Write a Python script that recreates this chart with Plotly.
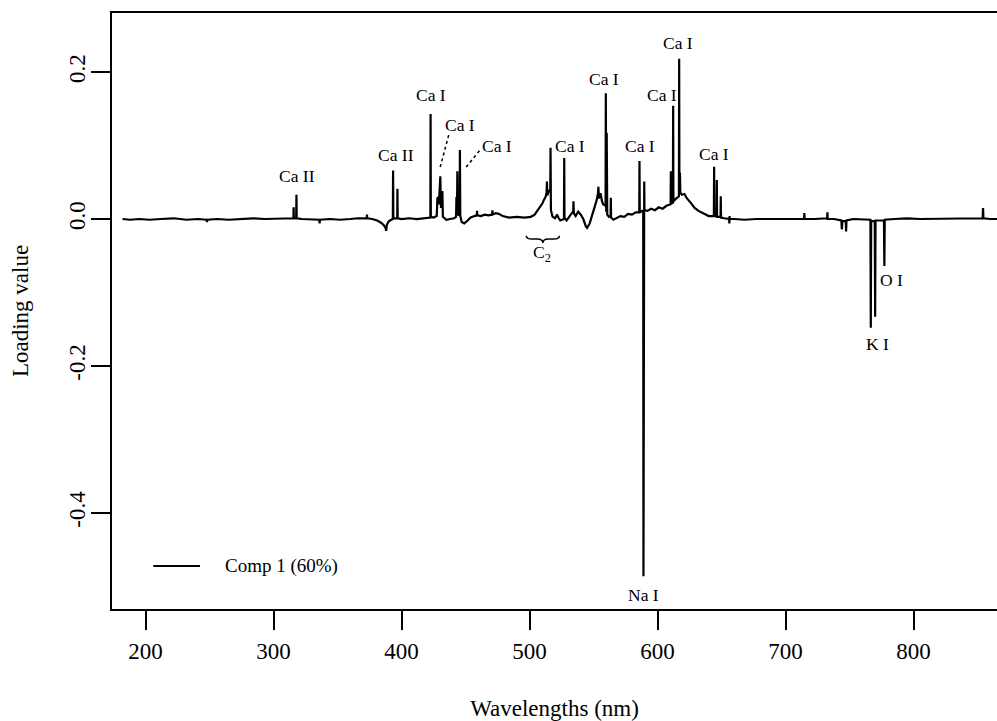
import plotly.graph_objects as go

# ---- Data: PCA loading spectrum (component 1) ----
wavelength_nm = [
    182, 188, 195, 203, 212, 222, 232, 241, 247.7, 248, 248.3, 256, 265, 275, 284, 293, 302, 309,
    315.5, 315.7, 315.9, 317.7, 317.9, 318.1, 322, 329, 335.8, 336, 336.2, 344, 352, 360, 366,
    372.8, 373, 373.2, 377, 381, 384, 386, 387.5, 388, 388.5, 390, 392,
    393.2, 393.4, 393.6, 396.6, 396.8, 397.0, 400, 406, 412, 418,
    422.5, 422.7, 422.9, 425, 427.5, 428.0, 428.6, 429.2, 430.3, 430.8, 431.9, 432.3, 435, 438, 441,
    442.6, 442.9, 443.3, 443.6, 444.0, 445.4, 445.6, 445.9, 447, 449, 451, 454, 457,
    458.8, 459, 459.2, 462, 465, 468, 470.8, 471, 471.2, 473.5, 476, 479, 484, 490, 496,
    501, 504, 506, 508, 510, 511.5, 512.5, 513.3, 513.6, 513.9, 515.0, 516.2, 516.4, 516.7,
    518, 520, 521.5, 522.5, 524, 526.9, 527.1, 527.3, 529, 531, 533, 534.1, 534.3, 534.6,
    536, 538, 540, 542, 544, 545, 547, 549, 551, 552.5, 553.5, 553.8, 554.2, 555.5, 556.5, 557.5,
    559.4, 559.6, 559.9, 560.3, 560.7, 562, 563.3, 563.5, 563.7, 565.5, 568, 571, 574, 577, 580, 583,
    585.7, 585.9, 586.1, 588, 588.8, 589.0, 589.2, 589.4, 589.6, 589.8,
    592, 595, 598, 601, 604, 607, 609.5, 610.2, 610.4, 610.6, 612.0, 612.2, 612.4, 614, 616.2,
    616.7, 616.9, 617.1, 617.5, 617.8, 619, 621, 623, 626, 629, 632, 636, 640,
    644.0, 644.2, 644.4, 646.1, 646.3, 646.5, 649.2, 649.4, 649.6, 652, 655.9, 656.1, 656.3, 656.5,
    660, 668, 677, 686, 695, 704, 714.5, 714.7, 714.9, 723, 732.5, 732.7, 732.9, 738,
    743.6, 744.0, 744.4, 747.1, 747.3, 747.6, 753, 760,
    766.3, 766.6, 766.9, 769.7, 770.0, 770.3, 776.9, 777.2, 777.5,
    785, 795, 805, 815, 825, 835, 845, 854.0, 854.3, 854.6, 860, 866,
]
loading_comp1 = [
    0.000, -0.001, 0.000, -0.001, 0.000, 0.001, -0.001, 0.000, -0.001, -0.004, -0.001, 0.000, -0.001, 0.000, 0.001, 0.000, 0.000, 0.001,
    0.001, 0.016, 0.001, 0.001, 0.033, 0.001, 0.000, -0.001, -0.001, -0.006, -0.001, 0.000, -0.001, 0.000, 0.001,
    0.001, 0.006, 0.001, 0.000, -0.002, -0.005, -0.008, -0.012, -0.016, -0.008, -0.003, -0.001,
    0.000, 0.066, 0.001, 0.001, 0.041, 0.001, 0.000, 0.001, 0.000, 0.001,
    0.002, 0.143, 0.003, 0.002, 0.004, 0.028, 0.030, 0.020, 0.058, 0.015, 0.038, 0.003, -0.001, 0.000, 0.001,
    0.003, 0.030, 0.008, 0.065, 0.006, 0.005, 0.094, 0.004, -0.004, -0.006, -0.003, 0.002, 0.004,
    0.005, 0.011, 0.005, 0.004, 0.006, 0.005, 0.006, 0.012, 0.006, 0.008, 0.007, 0.004, 0.002, 0.003, 0.002,
    0.003, 0.006, 0.011, 0.016, 0.021, 0.027, 0.030, 0.036, 0.051, 0.032, 0.038, 0.040, 0.097, 0.012,
    0.003, 0.001, 0.006, 0.002, -0.002, 0.000, 0.083, 0.002, -0.002, 0.004, 0.008, 0.010, 0.024, 0.008,
    0.004, 0.010, 0.006, 0.000, -0.010, -0.012, -0.006, 0.005, 0.016, 0.026, 0.035, 0.044, 0.028, 0.035, 0.025, 0.020,
    0.018, 0.171, 0.010, 0.117, 0.006, 0.003, 0.004, 0.029, 0.002, -0.001, 0.001, 0.004, 0.003, 0.007, 0.006, 0.009,
    0.009, 0.079, 0.009, 0.011, 0.010, -0.486, 0.010, -0.316, 0.051, 0.012,
    0.011, 0.014, 0.012, 0.016, 0.014, 0.018, 0.019, 0.020, 0.065, 0.021, 0.022, 0.154, 0.024, 0.027, 0.030,
    0.031, 0.218, 0.034, 0.063, 0.036, 0.033, 0.034, 0.028, 0.022, 0.015, 0.011, 0.008, 0.004,
    0.004, 0.071, 0.004, 0.004, 0.053, 0.003, 0.003, 0.031, 0.002, 0.001, 0.000, -0.006, 0.004, 0.000,
    0.000, -0.001, 0.000, 0.000, -0.001, 0.000, 0.000, 0.008, 0.000, 0.000, 0.001, 0.009, 0.000, 0.000,
    -0.002, -0.014, -0.003, -0.003, -0.017, -0.002, 0.000, 0.000,
    -0.001, -0.148, -0.003, -0.003, -0.133, -0.002, -0.002, -0.064, -0.001,
    0.000, 0.001, 0.000, 0.000, 0.001, 0.000, 0.000, 0.001, 0.015, 0.001, 0.000, 0.000,
]

# Peak labels (text, wavelength, loading)
label_text = ["Ca II", "Ca II", "Ca I", "Ca I", "Ca I", "Ca I", "Ca I", "Ca I", "Ca I", "Ca I", "Ca I",
              "K I", "O I", "Na I", "C<sub>2</sub>"]
label_x = [318.3, 395.5, 423.0, 445.8, 474.5, 531.5, 558.2, 586.0, 603.1, 616.0, 644.0,
           772.0, 782.4, 589.4, 509.9]
label_y = [0.059, 0.0875, 0.169, 0.128, 0.0988, 0.0988, 0.1906, 0.0988, 0.169, 0.240, 0.0882,
           -0.170, -0.083, -0.511, -0.047]

x_ticks = [200, 300, 400, 500, 600, 700, 800]
y_ticks = [-0.4, -0.2, 0.0, 0.2]
y_tick_text = ["-0.4", "-0.2", "0.0", "0.2"]

legend_name = "Comp 1 (60%)"

FONT = "Liberation Serif"

fig = go.Figure()
fig.add_trace(go.Scatter(
    x=wavelength_nm, y=loading_comp1, mode="lines", name=legend_name,
    line=dict(color="black", width=2.2), showlegend=False, hoverinfo="x+y",
))

# Peak labels
for t, x, y in zip(label_text, label_x, label_y):
    fig.add_annotation(x=x, y=y, text=t, showarrow=False,
                       font=dict(family=FONT, size=17.5, color="black"))

# dotted leader lines for the two crowded Ca I labels
fig.add_shape(type="line", x0=430.2, y0=0.0707, x1=437.3, y1=0.117,
              line=dict(color="black", width=1.5, dash="dot"))
fig.add_shape(type="line", x0=450.5, y0=0.0707, x1=460.9, y1=0.0929,
              line=dict(color="black", width=1.5, dash="dot"))

# curly brace under the C2 band
brace = ("M 497.4,-0.0227 Q 497.4,-0.0272 502.0,-0.0272 L 506.0,-0.0272 "
         "Q 510.4,-0.0272 510.4,-0.0327 Q 510.4,-0.0272 514.8,-0.0272 "
         "L 518.8,-0.0272 Q 523.4,-0.0272 523.4,-0.0227")
fig.add_shape(type="path", path=brace, xref="x", yref="y",
              line=dict(color="black", width=1.5))

# legend drawn in the plot's lower-left corner
fig.add_shape(type="line", xref="paper", yref="paper",
              x0=(153.3 - 112) / 885, x1=(200 - 112) / 885,
              y0=(609 - 566) / 596, y1=(609 - 566) / 596,
              line=dict(color="black", width=2))
fig.add_annotation(xref="paper", yref="paper", x=(223 - 112) / 885, y=(609 - 566) / 596,
                   xanchor="left", yanchor="middle", text=legend_name, showarrow=False,
                   font=dict(family=FONT, size=19, color="black"))

fig.update_layout(
    width=997, height=721,
    margin=dict(l=112, r=0, t=13, b=112),
    plot_bgcolor="white", paper_bgcolor="white",
    font=dict(family=FONT, size=23, color="black"),
    showlegend=False,
)
fig.update_xaxes(
    range=[173.8, 865.2], tickmode="array", tickvals=x_ticks,
    showline=True, mirror=True, linecolor="black", linewidth=2,
    ticks="outside", ticklen=19, tickwidth=2, tickcolor="black",
    tickfont=dict(family=FONT, size=23, color="black"),
    showgrid=False, zeroline=False, ticklabelstandoff=1,
    title=dict(text="Wavelengths (nm)", font=dict(family=FONT, size=23), standoff=41),
)
fig.update_yaxes(
    range=[-0.5306, 0.2803], tickmode="array", tickvals=y_ticks, ticktext=y_tick_text,
    tickangle=-90,
    showline=True, mirror=False, linecolor="black", linewidth=2,
    ticks="outside", ticklen=19, tickwidth=2, tickcolor="black",
    tickfont=dict(family=FONT, size=23, color="black"),
    showgrid=False, zeroline=False, ticklabelstandoff=-3,
    title=dict(text="Loading value", font=dict(family=FONT, size=23), standoff=30),
)

fig.write_html("out.html")
